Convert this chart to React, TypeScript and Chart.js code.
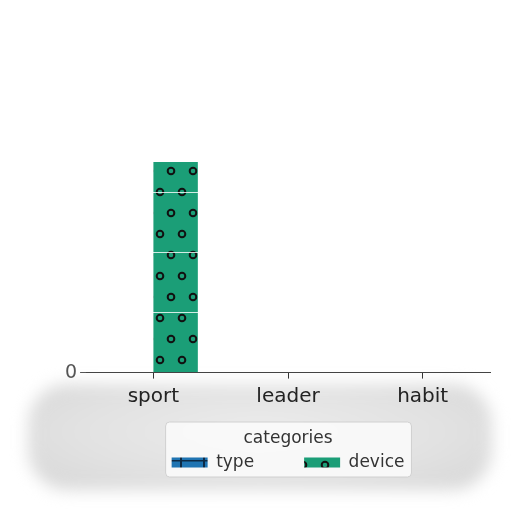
import { useEffect, useRef } from "react";
import { Chart, registerables, ChartConfiguration, Plugin } from "chart.js";

Chart.register(...registerables);

const categories = ["sport", "leader", "habit"];
const typeValues = [0, 0, 0];
const deviceValues = [35, 0, 0];
const legendTitle = "categories";

const BLUE = "#1f74b2";
const GREEN = "#1b9e77";
const FONT = "'DejaVu Sans', sans-serif";

function makeCirclePattern(ctx: CanvasRenderingContext2D) {
  const tile = document.createElement("canvas");
  tile.width = 22;
  tile.height = 42;
  const t = tile.getContext("2d")!;
  t.fillStyle = GREEN;
  t.fillRect(0, 0, 22, 42);
  t.strokeStyle = "#111";
  t.lineWidth = 2;
  const spots = [
    [17, 3],
    [6, 24],
  ];
  for (const [cx, cy] of spots) {
    for (const dx of [-22, 0, 22]) {
      for (const dy of [-42, 0, 42]) {
        t.beginPath();
        t.arc(cx + dx, cy + dy, 3.3, 0, Math.PI * 2);
        t.stroke();
      }
    }
  }
  return ctx.createPattern(tile, "repeat")!;
}

function makeLinePattern(ctx: CanvasRenderingContext2D) {
  const tile = document.createElement("canvas");
  tile.width = 23;
  tile.height = 10;
  const t = tile.getContext("2d")!;
  t.fillStyle = BLUE;
  t.fillRect(0, 0, 23, 10);
  t.fillStyle = "#0d2a45";
  t.fillRect(19, 0, 2, 10);
  t.fillRect(0, 0, 23, 1.5);
  return ctx.createPattern(tile, "repeat")!;
}

// frame around the legend, like matplotlib's legend box
const legendFrame: Plugin = {
  id: "legendFrame",
  beforeDraw(chart) {
    const lg: any = chart.legend;
    if (!lg || !lg.legendHitBoxes?.length) return;
    const boxes = lg.legendHitBoxes;
    const left = Math.min(...boxes.map((b: any) => b.left)) - 6;
    const right = Math.max(...boxes.map((b: any) => b.left + b.width)) + 7;
    const top = Math.min(...boxes.map((b: any) => b.top)) - 32;
    const bottom = Math.max(...boxes.map((b: any) => b.top + b.height)) + 6;
    const c = chart.ctx;
    c.save();
    c.beginPath();
    c.roundRect(left, top, right - left, bottom - top, 4);
    c.fillStyle = "rgba(250,250,250,0.92)";
    c.fill();
    c.strokeStyle = "#d0d0d0";
    c.lineWidth = 1;
    c.stroke();
    c.restore();
  },
};

export default function App() {
  const canvasRef = useRef<HTMLCanvasElement>(null);

  useEffect(() => {
    if (!canvasRef.current) return;
    const ctx = canvasRef.current.getContext("2d")!;

    const config: ChartConfiguration<"bar"> = {
      type: "bar",
      data: {
        labels: categories,
        datasets: [
          {
            label: "type",
            data: typeValues,
            backgroundColor: makeLinePattern(ctx),
            borderWidth: 0,
          },
          {
            label: "device",
            data: deviceValues,
            backgroundColor: makeCirclePattern(ctx),
            borderWidth: 0,
          },
        ],
      },
      options: {
        responsive: false,
        animation: false,
        layout: { padding: { left: 62, right: 22, top: 150, bottom: 31 } },
        datasets: {
          bar: { categoryPercentage: 0.66, barPercentage: 1 },
        },
        plugins: {
          tooltip: { enabled: false },
          legend: {
            position: "bottom",
            fullSize: false,
            title: {
              display: true,
              text: legendTitle,
              color: "#333",
              font: { family: FONT, size: 17 },
              padding: { top: 15, bottom: -46 },
            },
            labels: {
              color: "#333",
              font: { family: FONT, size: 17 },
              boxWidth: 36,
              boxHeight: 10,
              padding: 50,
            },
          },
        },
        scales: {
          x: {
            grid: {
              offset: false,
              drawOnChartArea: false,
              tickLength: 6,
              tickColor: "#333",
            },
            border: { display: true, color: "#444", width: 1 },
            ticks: {
              color: "#222",
              padding: 6,
              font: { family: FONT, size: 20 },
            },
          },
          y: {
            min: 0,
            max: 37,
            border: { display: false },
            grid: {
              z: 1,
              color: (c: any) =>
                c.tick && c.tick.value > 0 && c.tick.value < 37
                  ? "rgba(255,255,255,0.8)"
                  : "rgba(0,0,0,0)",
              tickColor: (c: any) =>
                c.tick && c.tick.value === 0 ? "#555" : "rgba(0,0,0,0)",
              tickLength: 6,
            },
            ticks: {
              stepSize: 10,
              padding: 3,
              color: "#555",
              font: { family: FONT, size: 19 },
              callback: (v: any) => (Number(v) === 0 ? "0" : ""),
            },
          },
        },
      },
      plugins: [legendFrame],
    };

    const chart = new Chart(canvasRef.current, config);
    return () => chart.destroy();
  }, []);

  return (
    <div
      style={{
        position: "fixed",
        left: 0,
        top: 0,
        width: 512,
        height: 512,
        background: "#fff",
        overflow: "hidden",
      }}
    >
      <div
        style={{
          position: "absolute",
          left: 28,
          top: 384,
          width: 464,
          height: 106,
          borderRadius: 40,
          background:
            "radial-gradient(ellipse at 50% 45%, #ececec 0%, #e2e2e2 55%, #d6d6d6 100%)",
          filter: "blur(8px)",
        }}
      />
      <canvas
        ref={canvasRef}
        width={512}
        height={512}
        style={{ position: "absolute", left: 0, top: 0 }}
      />
    </div>
  );
}
